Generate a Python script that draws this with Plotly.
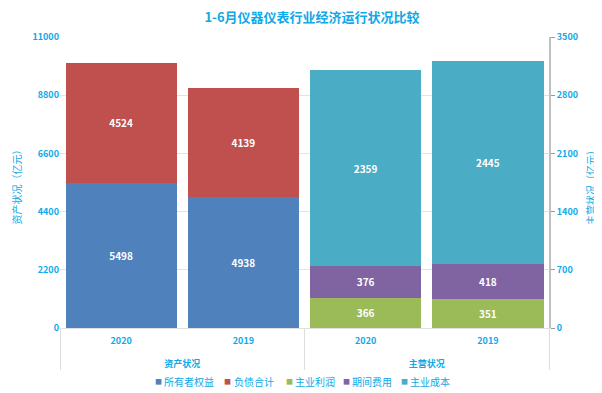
import plotly.graph_objects as go

groups_asset = ["资产状况", "资产状况"]
groups_main = ["主营状况", "主营状况"]
years = ["2020", "2019"]

owner_equity = [5498, 4938]
liabilities = [4524, 4139]
main_profit = [366, 351]
period_cost = [376, 418]
main_cost = [2359, 2445]

series_names = ["所有者权益", "负债合计", "主业利润", "期间费用", "主业成本"]
series_colors = ["#4f81bd", "#c0504d", "#9bbb59", "#8064a2", "#4bacc6"]

left_ticks = [0, 2200, 4400, 6600, 8800, 11000]
right_ticks = [0, 700, 1400, 2100, 2800, 3500]

CYAN = "#0fa8e8"
FONT = "Noto Sans CJK SC"

# page layout (the page body adds an 8px offset)
OFF = 8
PL, PR, PT, PB = 60, 549, 37, 328
W, H = 602 - OFF, 393 - OFF


def px(x):
    return (x - PL) / (PR - PL)


def py(y):
    return (PB - y) / (PB - PT)


fig = go.Figure()


def add(name, xs, ys, color, yaxis):
    fig.add_trace(go.Bar(
        name=name, x=[["<br>" + g for g in xs], years], y=ys, yaxis=yaxis,
        marker=dict(color=color, line=dict(width=0)),
        text=ys, texttemplate="%{y}", textposition="inside",
        insidetextanchor="middle",
        textfont=dict(color="white", size=10, family=FONT, weight="bold"),
    ))


add(series_names[0], groups_asset, owner_equity, series_colors[0], "y")
add(series_names[1], groups_asset, liabilities, series_colors[1], "y")
add(series_names[2], groups_main, main_profit, series_colors[2], "y2")
add(series_names[3], groups_main, period_cost, series_colors[3], "y2")
add(series_names[4], groups_main, main_cost, series_colors[4], "y2")

annotations = [
    dict(text="资产状况（亿元）", xref="paper", yref="paper", x=px(15.5), y=py(185),
         xanchor="center", yanchor="middle", textangle=-90, showarrow=False,
         font=dict(size=10, color=CYAN, family=FONT)),
    dict(text="主营状况（亿元）", xref="paper", yref="paper", x=px(590), y=py(185),
         xanchor="center", yanchor="middle", textangle=-90, showarrow=False,
         font=dict(size=10, color=CYAN, family=FONT)),
]

legend_sq = [158, 227.5, 289, 346, 404]
legend_tx = [162, 232, 293, 350, 408]
for name, color, sx, tx in zip(series_names, series_colors, legend_sq, legend_tx):
    annotations.append(dict(text="■", xref="paper", yref="paper", x=px(sx), y=py(381),
                            xanchor="center", yanchor="middle", showarrow=False,
                            font=dict(size=7, color=color, family=FONT)))
    annotations.append(dict(text=name, xref="paper", yref="paper", x=px(tx), y=py(381),
                            xanchor="left", yanchor="middle", showarrow=False,
                            font=dict(size=10, color=CYAN, family=FONT)))

fig.update_layout(
    width=W, height=H,
    margin=dict(l=PL - OFF, r=W - (PR - OFF), t=PT - OFF, b=H - (PB - OFF), autoexpand=False),
    barmode="stack", bargap=0.09,
    paper_bgcolor="white", plot_bgcolor="white",
    font=dict(family=FONT, color=CYAN, size=10),
    title=dict(text="<b>1-6月仪器仪表行业经济运行状况比较</b>", xref="container", x=(312 - OFF) / W,
               xanchor="center", yref="container", y=1 - (17 - OFF) / H, yanchor="middle",
               font=dict(size=13, color=CYAN, family=FONT)),
    showlegend=False,
    xaxis=dict(
        type="multicategory", showline=True, linecolor="#e0e0e0", linewidth=1,
        showdividers=True, dividercolor="#dddddd", dividerwidth=1,
        tickfont=dict(size=9, color=CYAN, family=FONT, weight="bold"),
        showgrid=False, ticks="", automargin=False, ticklabelstandoff=4,
    ),
    yaxis=dict(
        range=[0, 11000], tickvals=left_ticks, ticktext=[str(v) for v in left_ticks],
        showgrid=True, gridcolor="#e3e3e3", automargin=False,
        zeroline=False, showline=False, ticks="",
        tickfont=dict(size=9, color=CYAN, family=FONT, weight="bold"),
    ),
    yaxis2=dict(
        range=[0, 3500], tickvals=right_ticks, overlaying="y", side="right", automargin=False,
        showgrid=False, zeroline=False, showline=True, linecolor="#c0c0c0", linewidth=2,
        ticks="outside", ticklen=4, tickcolor="#999999",
        tickfont=dict(size=9, color=CYAN, family=FONT, weight="bold"),
    ),
    annotations=annotations,
)

fig.write_html("out.html")
